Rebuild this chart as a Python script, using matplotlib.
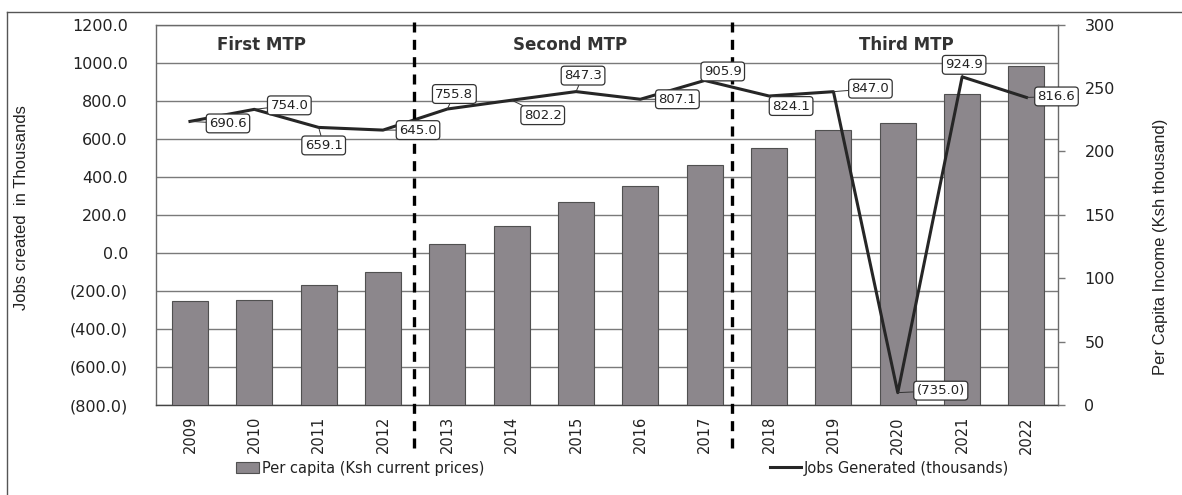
import matplotlib
matplotlib.use('Agg')
import matplotlib.pyplot as plt
import matplotlib.transforms as mtransforms
from matplotlib.ticker import FuncFormatter, MultipleLocator
from matplotlib.patches import Patch
from matplotlib.lines import Line2D

# data
years = ['2009', '2010', '2011', '2012', '2013', '2014', '2015',
         '2016', '2017', '2018', '2019', '2020', '2021', '2022']
per_capita = [82, 83, 95, 105, 127, 141, 160, 173, 189, 203, 217, 222, 245, 267]
jobs = [690.6, 754.0, 659.1, 645.0, 755.8, 802.2, 847.3, 807.1,
        905.9, 824.1, 847.0, -735.0, 924.9, 816.6]
periods = ['First MTP', 'Second MTP', 'Third MTP']

# label box offsets from each point, in pixels (x right, y up)
label_offsets = [(38, -2), (35, 4), (5, -18), (35, 0), (7, 15), (31, -15), (7, 16),
                 (37, 0), (18, 9), (22, -10), (37, 3), (43, 2), (2, 12), (30, 1)]
period_x = [1.11, 5.9, 11.14]
divider_x = [3.48, 8.42]

bar_color = '#8c878c'
line_color = '#262626'
grid_color = '#7a7a7a'
txt_font = ['DejaVu Sans']
lab_font = ['Liberation Sans', 'DejaVu Sans']

fig = plt.figure(figsize=(11.82, 4.95), dpi=100, facecolor='white')
ax = fig.add_axes([0.1317, 0.1818, 0.7634, 0.7687])
ax_bar = ax.twinx()
ax_line = ax.twinx()

x = list(range(len(years)))

# gridlines + left axis (jobs)
ax.set_xlim(-0.533, 13.49)
ax.set_ylim(-800, 1200)
ax.yaxis.set_major_locator(MultipleLocator(200))
ax.yaxis.set_major_formatter(FuncFormatter(
    lambda v, p: '(%.1f)' % abs(v) if v < 0 else '%.1f' % v))
ax.grid(axis='y', color=grid_color, lw=1.0)
ax.set_axisbelow(True)
ax.tick_params(axis='y', length=0, pad=20, labelsize=11.5, labelcolor='#222')
ax.set_xticks(x)
ax.set_xticklabels(years, rotation=90, fontsize=10.5, color='#222')
ax.tick_params(axis='x', length=0, pad=8)
for lbl in ax.get_yticklabels() + ax.get_xticklabels():
    lbl.set_family(txt_font)
for s in ax.spines.values():
    s.set_color('#6a6a6a')
    s.set_linewidth(1.0)
ax.spines['bottom'].set_color('#444')

# bars on the right axis
ax_bar.bar(x, per_capita, width=0.56, color=bar_color, edgecolor='#505050', lw=0.8)
ax_bar.set_ylim(0, 300)
ax_bar.yaxis.set_major_locator(MultipleLocator(50))
ax_bar.tick_params(axis='y', length=5, width=1, color='#777', pad=14,
                   labelsize=11.5, labelcolor='#222')
for lbl in ax_bar.get_yticklabels():
    lbl.set_family(txt_font)
for s in ax_bar.spines.values():
    s.set_visible(False)

# jobs line
ax_line.set_ylim(-800, 1200)
ax_line.plot(x, jobs, color=line_color, lw=2.2, zorder=3)
ax_line.set_yticks([])
for s in ax_line.spines.values():
    s.set_visible(False)

for i, (v, off) in enumerate(zip(jobs, label_offsets)):
    txt = '(%.1f)' % abs(v) if v < 0 else '%.1f' % v
    ax_line.annotate(txt, xy=(i, v), xytext=off, textcoords='offset pixels',
                     ha='center', va='center', fontsize=9.5, family=txt_font,
                     color='#222', zorder=5,
                     bbox=dict(boxstyle='round,pad=0.22,rounding_size=0.25',
                               fc='white', ec='#333', lw=0.9),
                     arrowprops=dict(arrowstyle='-', color='#333', lw=0.7,
                                     shrinkA=0, shrinkB=0))

# plan period dividers and names
trans = mtransforms.blended_transform_factory(ax_line.transData, ax_line.transAxes)
for xd in divider_x:
    ax_line.plot([xd, xd], [-0.113, 1.012], transform=trans, color='black',
                 lw=2.4, ls=(0, (3, 2.2)), clip_on=False, zorder=4)
for px, name in zip(period_x, periods):
    ax_line.text(px, 1090, name, ha='center', va='center', fontsize=12,
                 fontweight='bold', family=txt_font, color='#333')

# axis titles
fig.text(0.0178, 0.58, 'Jobs created  in Thousands', rotation=90, ha='center',
         va='center', fontsize=12, family=lab_font, color='#222')
fig.text(0.982, 0.501, 'Per Capita Income (Ksh thousand)', rotation=90,
         ha='center', va='center', fontsize=12, family=lab_font, color='#222')

# legend entries
h_bar = Patch(facecolor=bar_color, edgecolor='#505050', lw=0.8)
h_line = Line2D([], [], color=line_color, lw=2.2)
leg_y = 1 - 468 / 495
for h, name, x0, hl in [(h_bar, 'Per capita (Ksh current prices)', 236 / 1182, 1.6),
                        (h_line, 'Jobs Generated (thousands)', 770 / 1182, 2.1)]:
    leg = fig.legend([h], [name], loc='center left', bbox_to_anchor=(x0, leg_y),
                     frameon=False, handlelength=hl, handleheight=0.8,
                     handletextpad=0.2, borderpad=0, borderaxespad=0,
                     prop={'family': txt_font, 'size': 10.5})
    for t in leg.get_texts():
        t.set_color('#222')

# outer frame of the panel
fig.add_artist(Line2D([7 / 1182, 7 / 1182], [0, 1 - 12 / 495],
                      transform=fig.transFigure, color='#555', lw=1))
fig.add_artist(Line2D([7 / 1182, 1], [1 - 12 / 495, 1 - 12 / 495],
                      transform=fig.transFigure, color='#555', lw=1))

fig.savefig('out.png', dpi=100, facecolor='white')
